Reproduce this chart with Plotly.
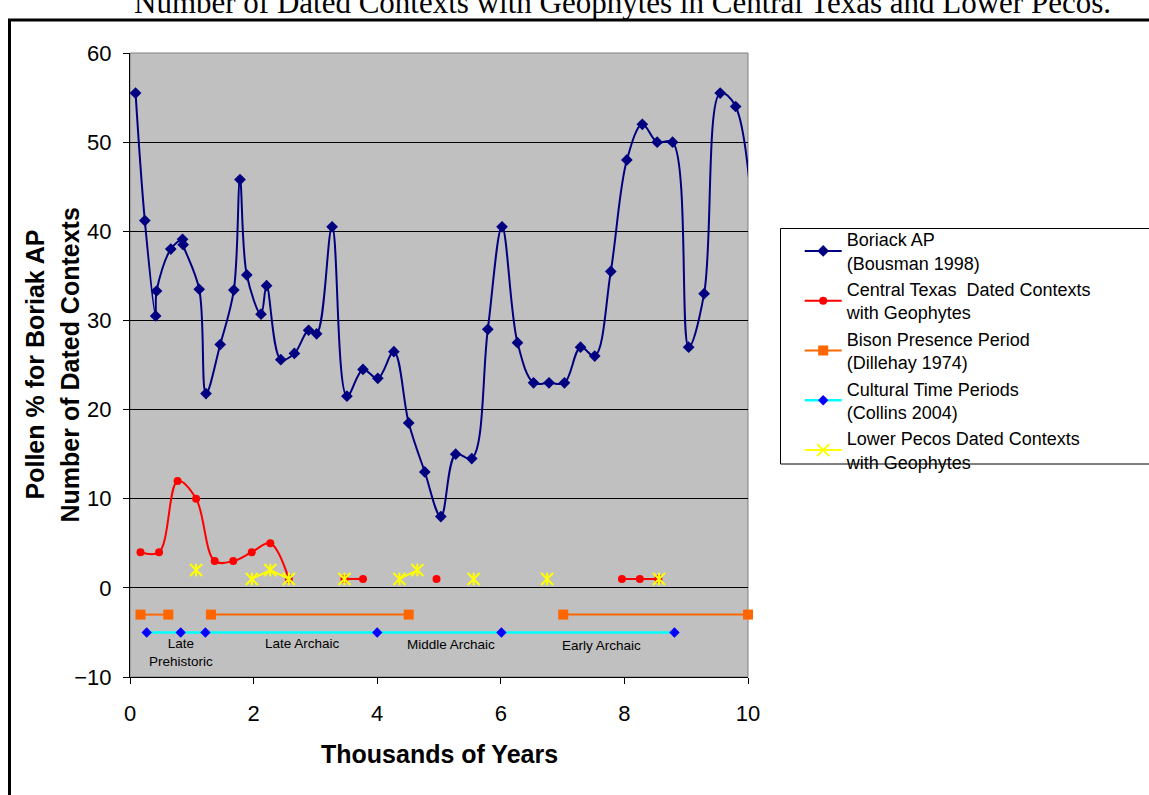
import plotly.graph_objects as go

# ---- data ----
boriack_x = [0.09, 0.24, 0.415, 0.43, 0.66, 0.85, 0.86, 1.12, 1.23, 1.46, 1.68, 1.78, 1.89, 2.12, 2.21,
             2.44, 2.66, 2.89, 3.02, 3.27, 3.51, 3.77, 4.01, 4.27, 4.51, 4.77, 5.03, 5.27, 5.53, 5.79,
             6.02, 6.27, 6.53, 6.78, 7.03, 7.29, 7.52, 7.78, 8.04, 8.29, 8.53, 8.78, 9.04, 9.29, 9.55,
             9.80, 10.25]
boriack_y = [55.5, 41.2, 30.5, 33.3, 38.0, 39.1, 38.5, 33.5, 21.8, 27.3, 33.4, 45.8, 35.1, 30.7, 33.9,
             25.6, 26.3, 28.9, 28.5, 40.5, 21.5, 24.5, 23.5, 26.5, 18.5, 13.0, 8.0, 15.0, 14.5, 29.0,
             40.5, 27.5, 23.0, 23.0, 23.0, 27.0, 26.0, 35.5, 48.0, 52.0, 50.0, 50.0, 27.0, 33.0, 55.5,
             54.0, 15.0]

ctx_x = [0.17, 0.47, 0.77, 1.07, 1.37, 1.67, 1.97, 2.27, 2.57, None, 3.47, 3.77, None, 4.96, None, 7.96, 8.25, 8.55]
ctx_y = [4, 4, 12, 10, 3, 3, 4, 5, 1, None, 1, 1, None, 1, None, 1, 1, 1]

bison_x = [0.17, 0.62, None, 1.31, 4.51, None, 7.01, 10.0]
bison_y = [-3, -3, None, -3, -3, None, -3, -3]

culture_x = [0.27, 0.82, 1.22, 4.0, 6.01, 8.81]
culture_y = [-5, -5, -5, -5, -5, -5]

pecos_x = [1.07, None, 1.97, 2.27, 2.57, None, 3.47, None, 4.36, 4.65, None, 5.56, None, 6.75, None, 8.56]
pecos_y = [2, None, 1, 2, 1, None, 1, None, 1, 2, None, 1, None, 1, None, 1]

period_labels = ["Late<br>Prehistoric", "Late Archaic", "Middle Archaic", "Early Archaic"]
period_x = [0.82, 2.79, 5.2, 7.63]
period_y = [-7.2, -6.2, -6.4, -6.45]

x_ticks = [0, 2, 4, 6, 8, 10]
y_ticks = [-10, 0, 10, 20, 30, 40, 50, 60]

SANS = "Liberation Sans, Arial, sans-serif"
SERIF = "Liberation Serif, Times New Roman, serif"

fig = go.Figure()
fig.add_trace(go.Scatter(
    x=boriack_x, y=boriack_y, mode="lines+markers", name="Boriack AP<br>(Bousman 1998)",
    line=dict(color="#000080", width=2, shape="spline", smoothing=1),
    marker=dict(symbol="diamond", size=9, color="#000080"),
))
fig.add_trace(go.Scatter(
    x=ctx_x, y=ctx_y, mode="lines+markers", name="Central Texas  Dated Contexts<br>with Geophytes",
    line=dict(color="#FF0000", width=2, shape="spline", smoothing=1),
    marker=dict(symbol="circle", size=8, color="#FF0000"), connectgaps=False,
))
fig.add_trace(go.Scatter(
    x=bison_x, y=bison_y, mode="lines+markers", name="Bison Presence Period<br>(Dillehay 1974)",
    line=dict(color="#FF6600", width=2),
    marker=dict(symbol="square", size=10, color="#FF6600"), connectgaps=False, cliponaxis=False,
))
fig.add_trace(go.Scatter(
    x=culture_x, y=culture_y, mode="lines+markers", name="Cultural Time Periods<br>(Collins 2004)",
    line=dict(color="#00FFFF", width=2.5),
    marker=dict(symbol="diamond", size=8, color="#0000FF"),
))
fig.add_trace(go.Scatter(
    x=pecos_x, y=pecos_y, mode="lines+markers", name="Lower Pecos Dated Contexts<br>with Geophytes",
    line=dict(color="#FFFF00", width=2),
    marker=dict(symbol="x-thin-open", size=12, color="#FFFF00", line=dict(color="#FFFF00", width=2)),
    connectgaps=False,
))
# vertical stroke of the star marker
fig.add_trace(go.Scatter(
    x=pecos_x, y=pecos_y, mode="markers", showlegend=False, hoverinfo="skip",
    marker=dict(symbol="line-ns-open", size=9, color="#FFFF00", line=dict(color="#FFFF00", width=2)),
))

for txt, px, py in zip(period_labels, period_x, period_y):
    fig.add_annotation(x=px, y=py, xref="x", yref="y", text=txt, showarrow=False,
                       font=dict(family=SANS, size=13.5, color="black"), align="center")

L, R, T, B = 130, 748, 53, 677
W, H = 1149, 795
def px2x(p):
    return (p - L) / (R - L)
def py2y(p):
    return (B - p) / (B - T)

# title (partly cut off at top, as in the original)
fig.add_annotation(xref="paper", yref="paper", x=px2x(622), y=py2y(2.6), xanchor="center", yanchor="middle",
                   text="Number of Dated Contexts with Geophytes in Central Texas and Lower Pecos.",
                   showarrow=False, font=dict(family=SERIF, size=31, color="black"))
# y-axis title (two lines)
fig.add_annotation(xref="paper", yref="paper", x=px2x(34.5), y=0.5, xanchor="center", yanchor="middle",
                   text="<b>Pollen % for Boriak AP</b>", textangle=-90, showarrow=False,
                   font=dict(family=SANS, size=25, color="black"))
fig.add_annotation(xref="paper", yref="paper", x=px2x(69.5), y=0.5, xanchor="center", yanchor="middle",
                   text="<b>Number of Dated Contexts</b>", textangle=-90, showarrow=False,
                   font=dict(family=SANS, size=25, color="black"))
# x-axis title
fig.add_annotation(xref="paper", yref="paper", x=0.5, y=py2y(754), xanchor="center", yanchor="middle",
                   text="<b>Thousands of Years</b>", showarrow=False,
                   font=dict(family=SANS, size=25, color="black"))

# outer chart frame
fig.add_shape(type="rect", xref="paper", yref="paper", x0=px2x(9.5), x1=px2x(1200), y0=py2y(850), y1=py2y(20),
              line=dict(color="black", width=3), fillcolor="rgba(0,0,0,0)", layer="above")
# legend box
fig.add_shape(type="rect", xref="paper", yref="paper", x0=px2x(780.5), x1=px2x(1200), y0=py2y(464), y1=py2y(228.5),
              line=dict(color="black", width=1), fillcolor="white", layer="above")
# plot-area border
fig.add_shape(type="rect", xref="paper", yref="paper", x0=0, x1=1, y0=0, y1=1,
              line=dict(color="#808080", width=1), fillcolor="rgba(0,0,0,0)", layer="between")

fig.update_layout(
    width=W, height=H,
    margin=dict(l=L, r=W - R, t=T, b=H - B, pad=0),
    paper_bgcolor="white", plot_bgcolor="#C0C0C0",
    font=dict(family=SANS, color="black"),
    showlegend=True,
    legend=dict(x=px2x(798.7), y=py2y(220), xanchor="left", yanchor="top",
                bgcolor="rgba(0,0,0,0)", bordercolor="rgba(0,0,0,0)", borderwidth=1,
                font=dict(family=SANS, size=18, color="black"), itemwidth=37, traceorder="normal"),
    xaxis=dict(range=[0, 10], tickvals=x_ticks, ticks="outside", ticklen=6, tickcolor="black",
               showline=True, linecolor="black", linewidth=1, showgrid=False, zeroline=False,
               tickfont=dict(family=SANS, size=22, color="black"), ticklabelstandoff=11),
    yaxis=dict(range=[-10, 60], tickvals=y_ticks, ticks="outside", ticklen=6, tickcolor="black",
               showline=True, linecolor="black", linewidth=1, showgrid=True, gridcolor="black",
               gridwidth=1, zeroline=True, zerolinecolor="black", zerolinewidth=1,
               tickfont=dict(family=SANS, size=22, color="black"), ticklabelstandoff=7),
)

fig.write_html("out.html", config={"displayModeBar": False},
               post_script="document.body.style.margin='0px';")
